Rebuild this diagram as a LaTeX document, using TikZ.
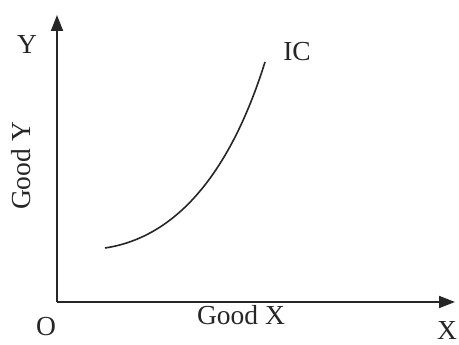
\documentclass[tikz,border=0pt]{standalone}
\usepackage{fontspec}
\setmainfont{Liberation Serif}
\usetikzlibrary{arrows.meta}
\tikzset{
  axis/.style={line width=1.8pt, draw=black!85, -{Triangle[length=16pt,width=12pt]}},
  curveline/.style={line width=1.6pt, draw=black!85},
  lbl/.style={font=\fontsize{27.5}{32}\selectfont, text=black!85, inner sep=0pt}
}
\begin{document}
\begin{tikzpicture}[x=1pt,y=-1pt]
\useasboundingbox[fill=white] (0,0) rectangle (459,345);
\coordinate (orig) at (57,302);
\coordinate (ytip) at (57,15);
\coordinate (xtip) at (455,302);
\coordinate (cs) at (105,248);
\coordinate (ce) at (265,62);
\draw[axis] (orig) -- (ytip);
\draw[axis] (orig) -- (xtip);
\draw[curveline] (cs) .. controls (185,236) and (235,158) .. (ce);
\node[lbl] (ylab) at (27,44) {Y};
\node[lbl, rotate=90] (goody) at (21,166) {Good Y};
\node[lbl] (olab) at (46,327) {O};
\node[lbl] (goodx) at (241,315) {Good X};
\node[lbl] (xlab) at (447,330) {X};
\node[lbl] (ic) at (297,52) {IC};
\end{tikzpicture}
\end{document}
